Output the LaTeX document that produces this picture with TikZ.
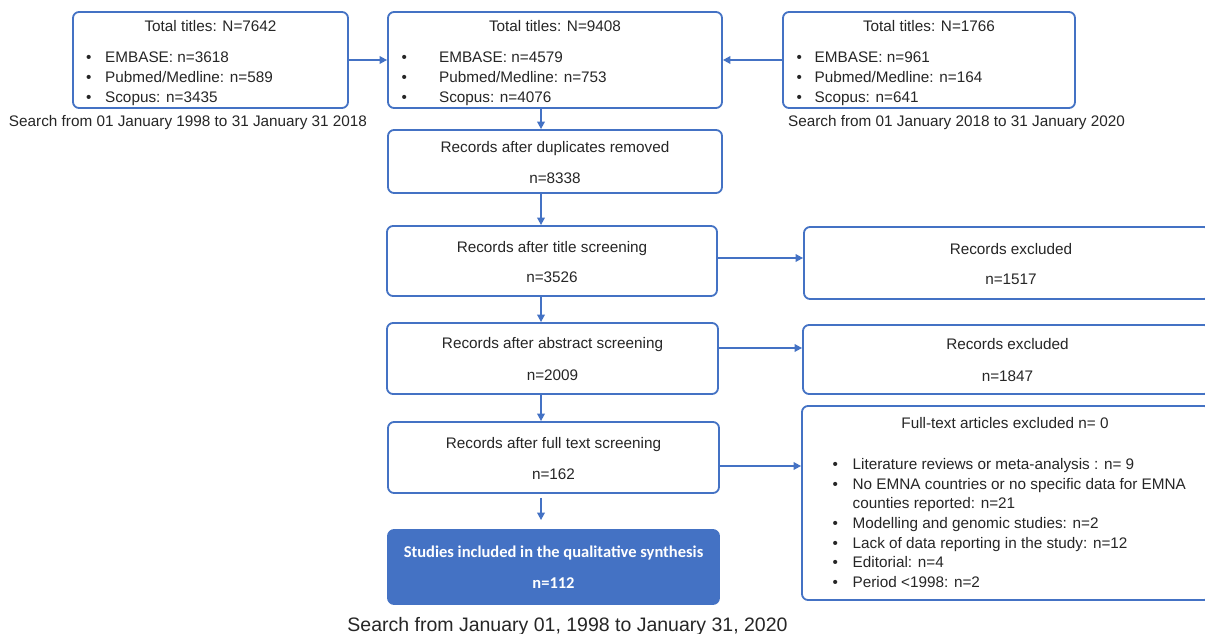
\documentclass[tikz,border=0pt]{standalone}
\usepackage{fontspec}
\setmainfont{Liberation Sans}
\newfontfamily\carlito{Carlito}
\usetikzlibrary{arrows.meta,positioning}
\definecolor{prisma}{RGB}{68,114,196}
\definecolor{ink}{RGB}{38,38,38}

\begin{document}
\begin{tikzpicture}[x=1pt,y=-1pt,font=\fontsize{15.3}{19.6}\selectfont,text=ink,
  box/.style={draw=prisma,line width=1.8pt,rounded corners=6pt,inner sep=0pt},
  arr/.style={-{Triangle[length=7.5pt,width=7.5pt]},prisma,line width=1.8pt},
  txt/.style={inner sep=0pt,anchor=base},
  lst/.style={inner sep=0pt,anchor=west,align=left}]
\clip (0,0) rectangle (1205,634);
\fill[white] (0,0) rectangle (1205,634);

% search boxes
\node[box,minimum width=275pt,minimum height=96pt] (old) at (210.5,60) {};
\node[box,minimum width=334pt,minimum height=96pt] (total) at (555,60) {};
\node[box,minimum width=292pt,minimum height=96pt] (new) at (929,60) {};
\node[txt] (oldtitle) at (210.5,31.5) {Total titles: N=7642};
\node[txt] (totaltitle) at (555,31.5) {Total titles: N=9408};
\node[txt] (newtitle) at (929,31.5) {Total titles: N=1766};
\node[lst] (oldlist) at (86,78.6) {\begin{tabular}{@{}l@{\hspace{13.6pt}}l@{}}
  \textbullet & EMBASE: n=3618\\ \textbullet & Pubmed/Medline: n=589\\ \textbullet & Scopus: n=3435\end{tabular}};
\node[lst] (totallist) at (401.5,78.6) {\begin{tabular}{@{}l@{\hspace{32pt}}l@{}}
  \textbullet & EMBASE: n=4579\\ \textbullet & Pubmed/Medline: n=753\\ \textbullet & Scopus: n=4076\end{tabular}};
\node[lst] (newlist) at (796.5,78.6) {\begin{tabular}{@{}l@{\hspace{12.6pt}}l@{}}
  \textbullet & EMBASE: n=961\\ \textbullet & Pubmed/Medline: n=164\\ \textbullet & Scopus: n=641\end{tabular}};
\node[txt] (oldnote) at (188,126) {Search from 01 January 1998 to 31 January 31 2018};
\node[txt] (newnote) at (956.5,126) {Search from 01 January 2018 to 31 January 2020};

% screening steps
\node[box,minimum width=334pt,minimum height=63pt] (dup) at (555,161.5) {};
\node[txt] at (555,152.5) {Records after duplicates removed};
\node[txt] at (555,183.5) {n=8338};
\node[box,minimum width=330pt,minimum height=70pt] (title) at (552,261) {};
\node[txt] at (552,252.5) {Records after title screening};
\node[txt] at (552,282.5) {n=3526};
\node[box,minimum width=331pt,minimum height=71pt] (abstract) at (552.5,358.5) {};
\node[txt] at (552.5,348.5) {Records after abstract screening};
\node[txt] at (552.5,380.5) {n=2009};
\node[box,minimum width=331pt,minimum height=71pt] (fulltext) at (553.5,457.5) {};
\node[txt] at (553.5,448.5) {Records after full text screening};
\node[txt] at (553.5,479.5) {n=162};
\node[box,fill=prisma,minimum width=331pt,minimum height=74pt] (included) at (553.5,567) {};
\node[txt,text=white,font=\carlito\bfseries\fontsize{16.5}{20}\selectfont] at (553.5,557.3) {Studies included in the qualitative synthesis};
\node[txt,text=white,font=\carlito\bfseries\fontsize{16.5}{20}\selectfont] at (553.5,588.3) {n=112};
\node[txt,font=\fontsize{19.5}{23}\selectfont] (period) at (567.5,631) {Search from January 01, 1998 to January 31, 2020};

% exclusions
\node[box,minimum width=406pt,minimum height=72pt] (excl1) at (1007,263) {};
\node[txt] at (1011,254) {Records excluded};
\node[txt] at (1011,284.5) {n=1517};
\node[box,minimum width=407pt,minimum height=69pt] (excl2) at (1006.5,359.5) {};
\node[txt] at (1007.5,349.5) {Records excluded};
\node[txt] at (1007.5,381.5) {n=1847};
\node[box,minimum width=408pt,minimum height=194pt] (excl3) at (1006,503) {};
\node[txt] at (1005,428.5) {Full-text articles excluded n= 0};
\node[lst] (reasons) at (832.5,524.6) {\begin{tabular}{@{}l@{\hspace{14.6pt}}l@{}}
  \textbullet & Literature reviews or meta-analysis : n= 9\\
  \textbullet & No EMNA countries or no specific data for EMNA\\
   & counties reported: n=21\\
  \textbullet & Modelling and genomic studies: n=2\\
  \textbullet & Lack of data reporting in the study: n=12\\
  \textbullet & Editorial: n=4\\
  \textbullet & Period <1998: n=2\end{tabular}};

% connectors
\coordinate (spine) at (541,0);
\draw[arr] (old) -- (total);
\draw[arr] (new) -- (total);
\draw[arr] (total.south -| spine) -- (dup.north -| spine);
\draw[arr] (dup.south -| spine) -- (title.north -| spine);
\draw[arr] (title.south -| spine) -- (abstract.north -| spine);
\draw[arr] (abstract.south -| spine) -- (fulltext.north -| spine);
\draw[arr] ([yshift=-4pt]fulltext.south -| spine) -- ([yshift=9pt]included.north -| spine);
\draw[arr] ([yshift=3pt]title.east) -- ([yshift=3pt]title.east -| excl1.west);
\draw[arr] ([yshift=10.5pt]abstract.east) -- ([yshift=10.5pt]abstract.east -| excl2.west);
\draw[arr] ([yshift=-8.5pt]fulltext.east) -- ([yshift=-8.5pt]fulltext.east -| excl3.west);
\end{tikzpicture}
\end{document}
